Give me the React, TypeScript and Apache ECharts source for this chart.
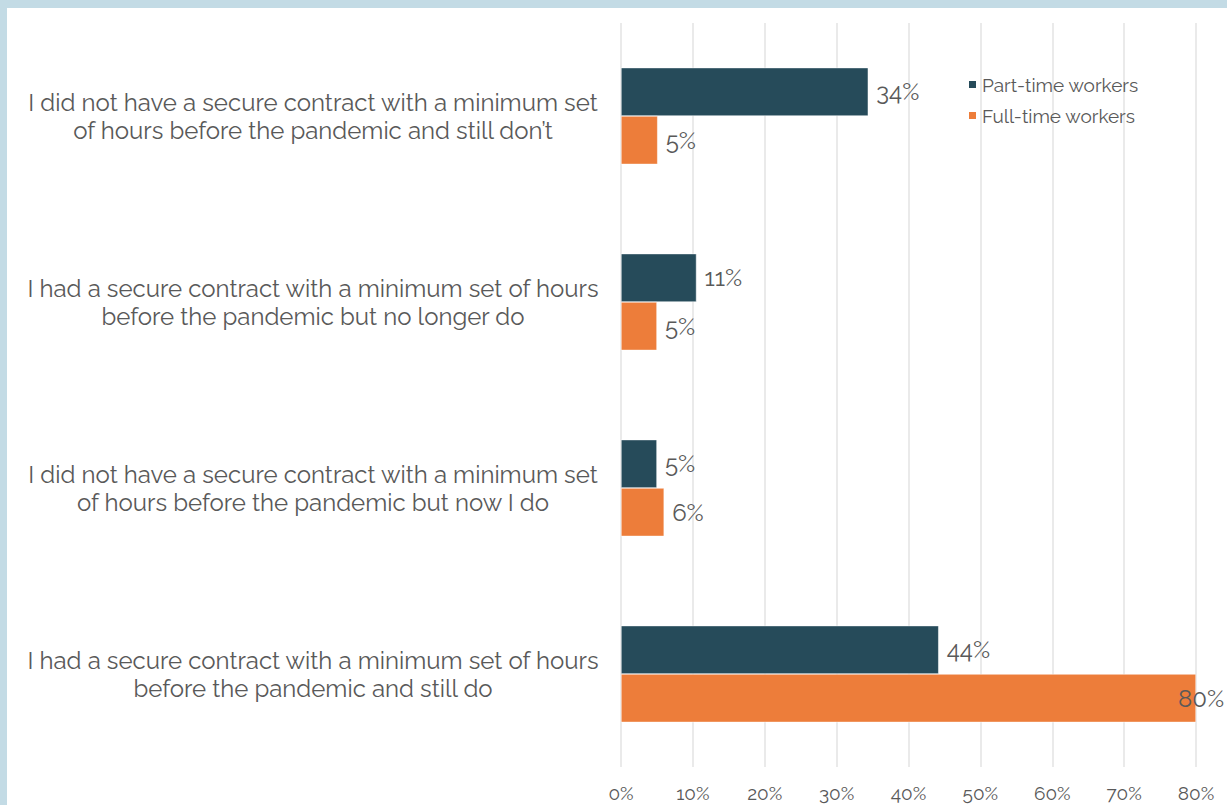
import React, { useEffect, useRef } from "react";
import * as echarts from "echarts";

const categories: string[] = [
  "I did not have a secure contract with a minimum set\nof hours before the pandemic and still don’t",
  "I had a secure contract with a minimum set of hours\nbefore the pandemic but no longer do",
  "I did not have a secure contract with a minimum set\nof hours before the pandemic but now I do",
  "I had a secure contract with a minimum set of hours\nbefore the pandemic and still do",
];
const partTime: number[] = [34.4, 10.5, 5.0, 44.2];
const fullTime: number[] = [5.1, 5.0, 6.0, 80.0];
const xTicks: number[] = [0, 10, 20, 30, 40, 50, 60, 70, 80];
const seriesNames: string[] = ["Part-time workers", "Full-time workers"];

const FONT = "Raleway, Lato, 'Open Sans', sans-serif";
const TEXT = "#595959";

export default function App() {
  const ref = useRef<HTMLDivElement>(null);
  useEffect(() => {
    if (!ref.current) return;
    const chart = echarts.init(ref.current, undefined, { renderer: "svg" });
    const labelBase = {
      show: true,
      position: "right" as const,
      distance: 8,
      offset: [0, 0],
      color: TEXT,
      fontSize: 24,
      fontFamily: FONT,
      formatter: (p: any) => Math.round(p.value) + "%",
    };
    chart.setOption({
      animation: false,
      textStyle: { fontFamily: FONT },
      grid: { left: 621, right: 31, top: 23, bottom: 38, containLabel: false },
      legend: {
        orient: "vertical",
        left: 962,
        top: 70,
        itemWidth: 9,
        itemHeight: 9,
        itemGap: 12,
        icon: "rect",
        textStyle: { color: TEXT, fontSize: 19, fontFamily: FONT },
        data: seriesNames,
      },
      xAxis: {
        type: "value",
        min: 0,
        max: xTicks[xTicks.length - 1],
        interval: 10,
        axisLine: { show: false },
        axisTick: { show: false },
        splitLine: { show: true, lineStyle: { color: "#e3e3e3", width: 1.5 } },
        axisLabel: {
          color: TEXT,
          fontSize: 19,
          fontFamily: FONT,
          margin: 16,
          formatter: (v: number) => v + "%",
        },
      },
      yAxis: {
        type: "category",
        inverse: true,
        data: categories,
        axisLine: { show: false },
        axisTick: { show: false },
        axisLabel: {
          margin: 21,
          align: "right",
          formatter: (v: string) =>
            v
              .split("\n")
              .map((line) => "{c|" + line + "}")
              .join("\n"),
          rich: {
            c: {
              width: 574,
              align: "center",
              color: TEXT,
              fontSize: 24,
              fontFamily: FONT,
              lineHeight: 28,
            },
          },
        },
      },
      series: [
        {
          name: seriesNames[0],
          type: "bar",
          data: partTime,
          barCategoryGap: "48%",
          barGap: "0%",
          itemStyle: { color: "#264b5a", borderColor: "#ffffff", borderWidth: 0.5 },
          label: labelBase,
        },
        {
          name: seriesNames[1],
          type: "bar",
          data: fullTime.map((v, i) =>
            i === fullTime.length - 1
              ? { value: v, label: { offset: [-26, 0] } }
              : v
          ),
          barCategoryGap: "48%",
          barGap: "0%",
          itemStyle: { color: "#ed7d3a", borderColor: "#ffffff", borderWidth: 0.5 },
          label: labelBase,
        },
      ],
    });
    return () => chart.dispose();
  }, []);

  return (
    <div style={{ position: "fixed", left: 0, top: 0, width: 1227, height: 805, background: "#c3dbe5" }}>
      <div style={{ position: "absolute", left: 7, top: 8, right: 0, bottom: 0, background: "#ffffff" }} />
      <div ref={ref} style={{ position: "absolute", left: 0, top: 0, width: 1227, height: 805 }} />
    </div>
  );
}
